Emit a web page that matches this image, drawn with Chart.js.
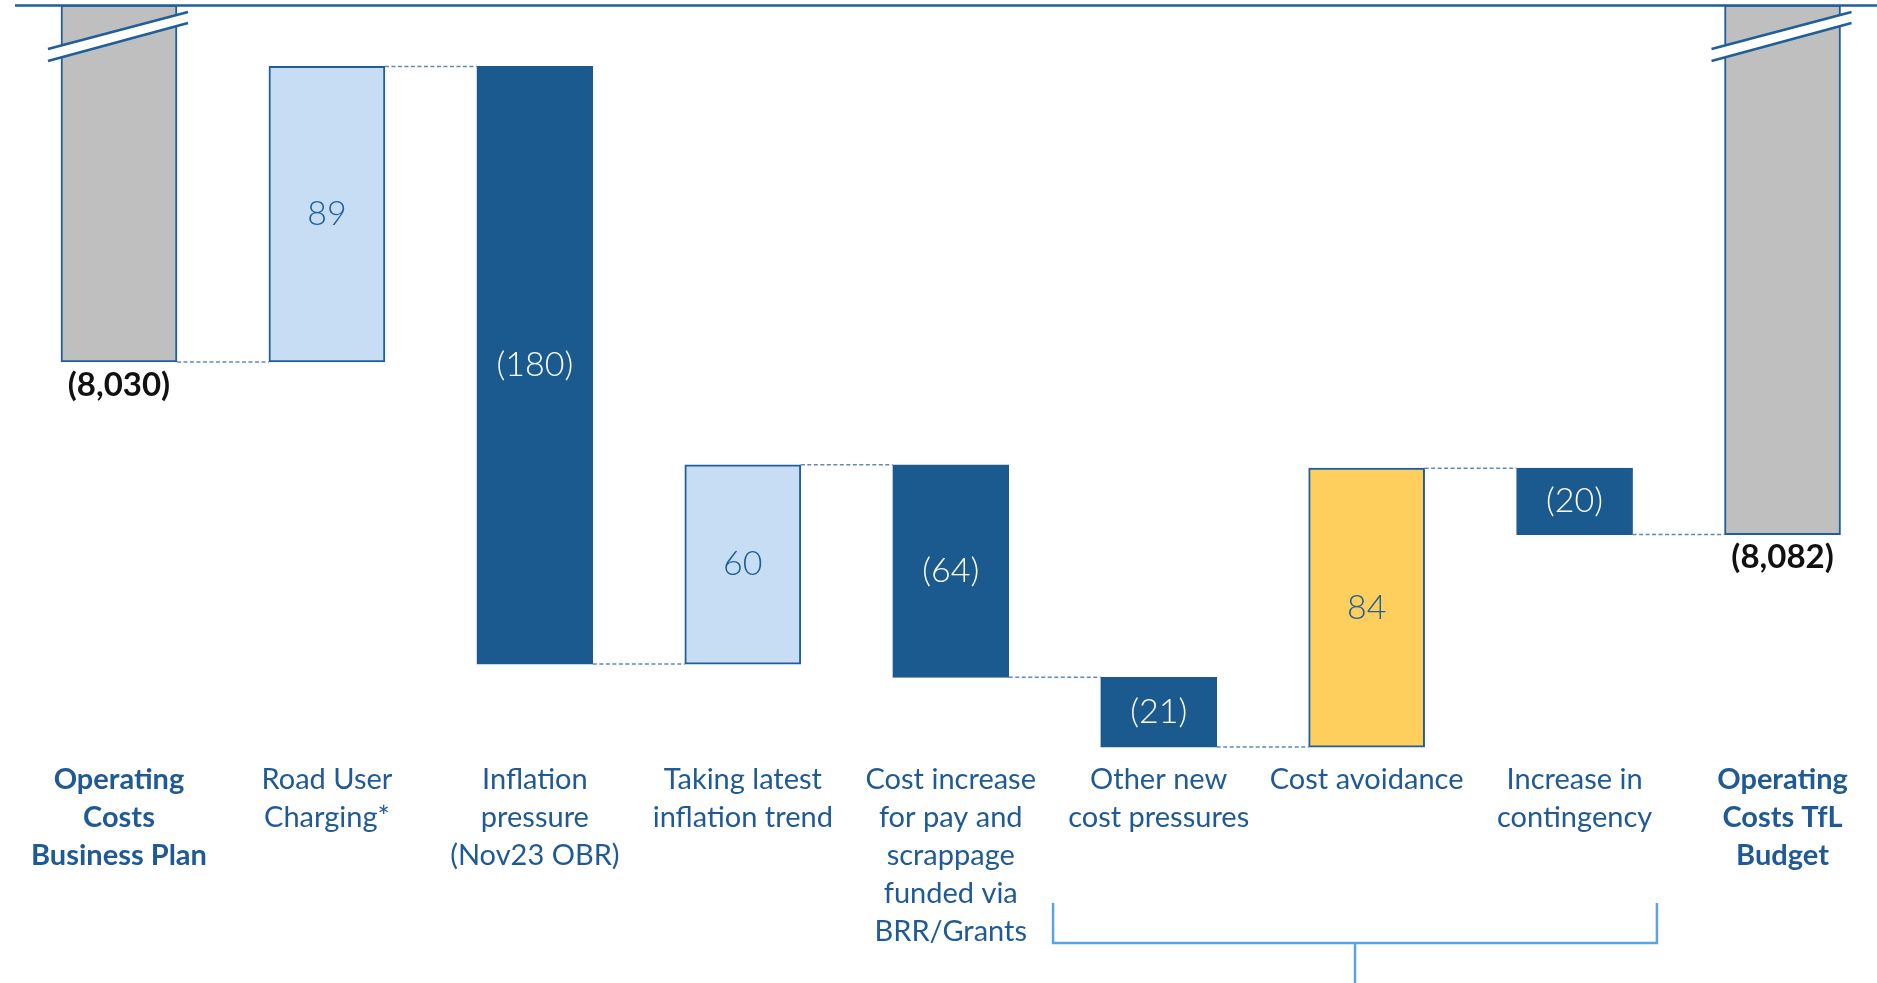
<!DOCTYPE html>
<html><head><meta charset="utf-8">
<script src="https://cdn.jsdelivr.net/npm/chart.js@4/dist/chart.umd.min.js"></script>
<style>html,body{margin:0;padding:0;background:#fff;overflow:hidden;width:1877px;height:983px}canvas{display:block}</style>
</head><body>
<canvas id="c" width="1890" height="983"></canvas>
<script>
// ---- data ----
const categories = [
  ["Operating","Costs","Business Plan"],
  ["Road User","Charging*"],
  ["Inflation","pressure","(Nov23 OBR)"],
  ["Taking latest","inflation trend"],
  ["Cost increase","for pay and","scrappage","funded via","BRR/Grants"],
  ["Other new","cost pressures"],
  ["Cost avoidance"],
  ["Increase in","contingency"],
  ["Operating","Costs TfL","Budget"]
];
const startValue = -8030;
const changes = [89, -180, 60, -64, -21, 84, -20];
const endValue = -8082;
const valueLabels = ["(8,030)","89","(180)","60","(64)","(21)","84","(20)","(8,082)"];
const barKinds = ["total","increase","decrease","increase","decrease","decrease","avoidance","decrease","total"];
const axisTop = -7922.5, axisBottom = -8149;
const bracketFrom = 4.492, bracketTo = 7.396;

// ---- derived ----
const cum = [startValue];
changes.forEach(c => cum.push(cum[cum.length - 1] + c));
const floating = [[startValue, axisTop]];
for (let i = 0; i < changes.length; i++) floating.push([cum[i], cum[i + 1]]);
floating.push([endValue, axisTop]);

const fills = {total:'#bfbfbf', increase:'#c6ddf3', decrease:'#1b5a8f', avoidance:'#ffcf5d'};
const textCols = {increase:'#1f5f99', decrease:'#ffffff', avoidance:'#1f5f99'};
const BLUE = '#1f5f99';

const wfPlugin = {
  id: 'wf',
  afterDatasetsDraw(chart) {
    const ctx = chart.ctx, meta = chart.getDatasetMeta(0), ys = chart.scales.y, xs = chart.scales.x, ca = chart.chartArea;
    const els = meta.data.map(e => e.getProps(['x','y','base','width'], true));
    ctx.save();
    // connectors
    ctx.strokeStyle = '#5f89bb'; ctx.lineWidth = 1.5; ctx.setLineDash([4, 2.5]);
    for (let i = 0; i < els.length - 1; i++) {
      const a = els[i], b = els[i + 1];
      const py = ys.getPixelForValue(cum[i]);
      ctx.beginPath(); ctx.moveTo(a.x + a.width / 2, py); ctx.lineTo(b.x - b.width / 2, py); ctx.stroke();
    }
    ctx.setLineDash([]);
    // break marks on total bars
    [0, els.length - 1].forEach(i => {
      const e = els[i];
      const l = e.x - e.width / 2 - 13, r = e.x + e.width / 2 + 11, t = ca.top;
      ctx.fillStyle = '#fff';
      ctx.beginPath(); ctx.moveTo(l, t + 44); ctx.lineTo(r, t + 7); ctx.lineTo(r, t + 18); ctx.lineTo(l, t + 56); ctx.closePath(); ctx.fill();
      ctx.strokeStyle = BLUE; ctx.lineWidth = 2.5;
      ctx.beginPath(); ctx.moveTo(l, t + 44); ctx.lineTo(r, t + 7); ctx.stroke();
      ctx.beginPath(); ctx.moveTo(l, t + 56); ctx.lineTo(r, t + 18); ctx.stroke();
    });
    // top line
    ctx.strokeStyle = BLUE; ctx.lineWidth = 2.5;
    ctx.beginPath(); ctx.moveTo(ca.left, ca.top + 0.5); ctx.lineTo(chart.width, ca.top + 0.5); ctx.stroke();
    // value labels
    ctx.textAlign = 'center'; ctx.textBaseline = 'middle';
    els.forEach((e, i) => {
      const k = barKinds[i];
      if (k === 'total') {
        ctx.font = '700 33px Lato, "Open Sans", sans-serif';
        ctx.fillStyle = '#111';
        ctx.fillText(valueLabels[i], e.x, Math.max(e.y, e.base) + 23);
      } else {
        ctx.font = '300 34px Lato, "Open Sans", sans-serif';
        ctx.fillStyle = textCols[k];
        ctx.fillText(valueLabels[i], e.x, (e.y + e.base) / 2);
      }
    });
    // bracket
    const bl = xs.getPixelForValue(bracketFrom), br = xs.getPixelForValue(bracketTo), bm = (bl + br) / 2;
    const by0 = ca.bottom + 146, by1 = ca.bottom + 186;
    ctx.strokeStyle = '#5ba2e4'; ctx.lineWidth = 2.5;
    ctx.beginPath(); ctx.moveTo(bl, by0); ctx.lineTo(bl, by1); ctx.lineTo(br, by1); ctx.lineTo(br, by0); ctx.stroke();
    ctx.beginPath(); ctx.moveTo(bm, by1); ctx.lineTo(bm, chart.height); ctx.stroke();
    ctx.restore();
  }
};

new Chart(document.getElementById('c'), {
  type: 'bar',
  data: {
    labels: categories,
    datasets: [{
      data: floating,
      backgroundColor: barKinds.map(k => fills[k]),
      borderColor: barKinds.map(k => k === 'decrease' ? fills.decrease : BLUE),
      borderWidth: 2,
      borderSkipped: false,
      barThickness: 116
    }]
  },
  options: {
    responsive: false,
    animation: false,
    layout: {padding: {left: 15, right: 3.5, top: 5, bottom: 28}},
    plugins: {legend: {display: false}, tooltip: {enabled: false}},
    scales: {
      y: {display: false, min: axisBottom, max: axisTop},
      x: {
        grid: {display: false, drawTicks: false},
        border: {display: false},
        ticks: {
          padding: 4, maxRotation: 0, minRotation: 0, autoSkip: false, color: '#1f5a96',
          font: (c) => ({family: 'Lato, "Open Sans", sans-serif', size: 29, weight: (c.index === 0 || c.index === 8) ? '700' : '400', lineHeight: 1.31})
        }
      }
    }
  },
  plugins: [wfPlugin]
});
</script>
</body></html>
